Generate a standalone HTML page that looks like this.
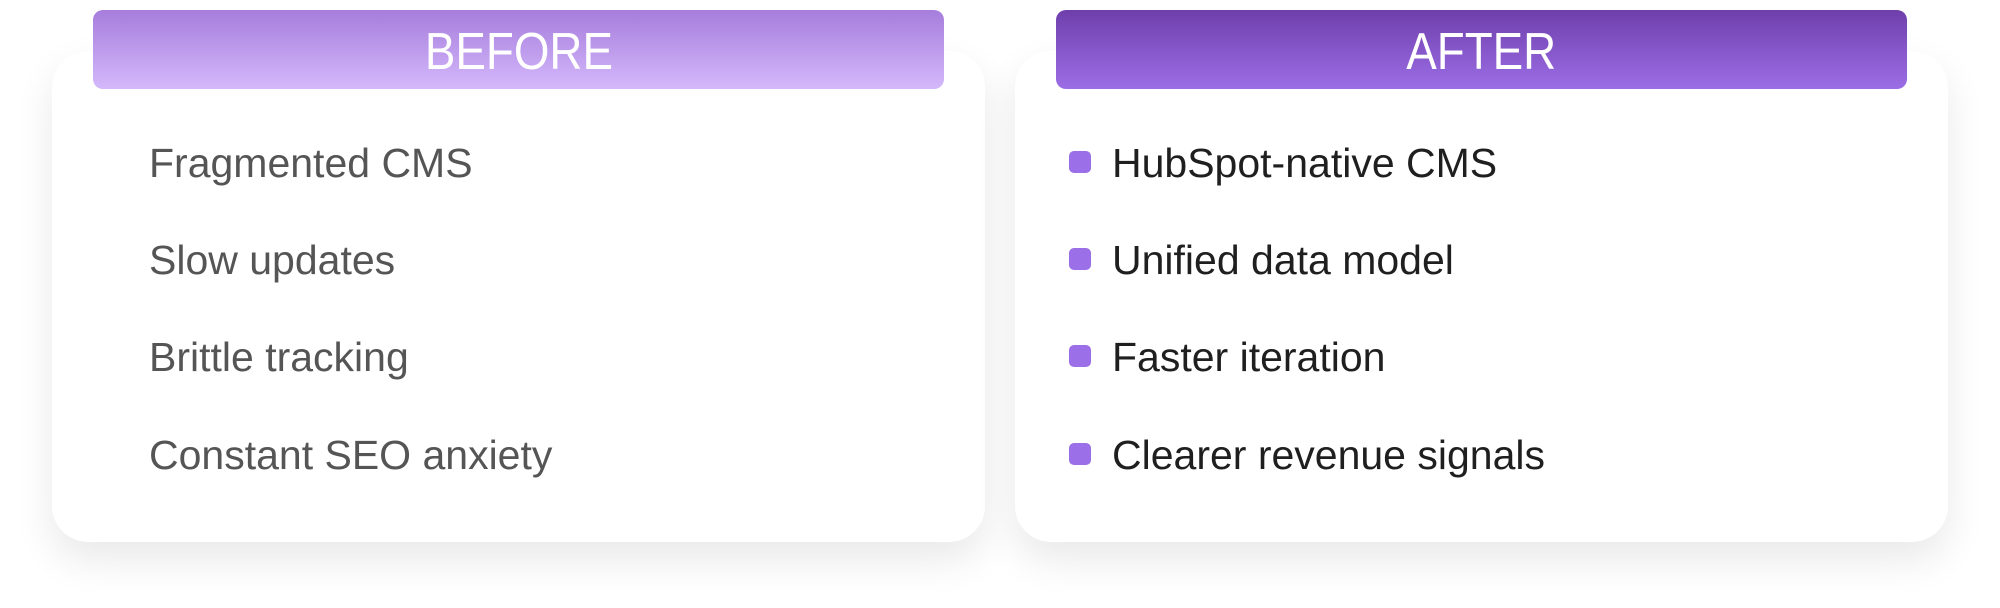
<!DOCTYPE html>
<html><head><style>
body{margin:0;width:2000px;height:608px;background:#fff;position:relative;overflow:hidden;font-family:"Liberation Sans",sans-serif}
.card{position:absolute;top:51px;height:491px;width:933px;background:#fff;border-radius:36px;box-shadow:0 18px 40px rgba(0,0,0,0.09)}
.hdr{position:absolute;top:10px;height:79px;width:851px;border-radius:10px;color:#fff;font-size:52px;text-align:center;line-height:84px}
.hdr span{display:inline-block;transform:scaleX(0.88)}
.t{position:absolute;font-size:41px;line-height:46px;margin-top:-3px}
.l{left:149px;color:#555}
.r{left:1112px;color:#1f1f1f}
.b{position:absolute;left:1069px;width:22px;height:22px;border-radius:5px;background:#9b6fe8}
</style></head><body>
<div class="card" style="left:52px"></div>
<div class="card" style="left:1015px"></div>
<div class="hdr" style="left:93px;background:linear-gradient(#a67ddc,#d4b8fb)"><span>BEFORE</span></div>
<div class="hdr" style="left:1056px;background:linear-gradient(#6e3fab,#9c6ee6)"><span>AFTER</span></div>
<div class="t l" style="top:143px">Fragmented CMS</div>
<div class="t l" style="top:240px">Slow updates</div>
<div class="t l" style="top:337px">Brittle tracking</div>
<div class="t l" style="top:435px">Constant SEO anxiety</div>
<div class="b" style="top:151px"></div><div class="t r" style="top:143px">HubSpot-native CMS</div>
<div class="b" style="top:248px"></div><div class="t r" style="top:240px">Unified data model</div>
<div class="b" style="top:345px"></div><div class="t r" style="top:337px">Faster iteration</div>
<div class="b" style="top:443px"></div><div class="t r" style="top:435px">Clearer revenue signals</div>
</body></html>
